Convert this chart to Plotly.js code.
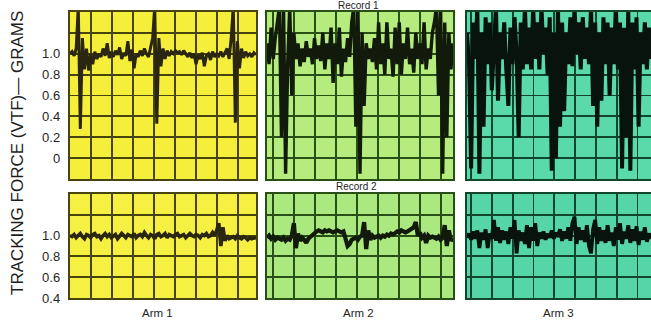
<!DOCTYPE html>
<html>
<head>
<meta charset="utf-8">
<script src="https://cdn.plot.ly/plotly-3.0.1.min.js"></script>
<style>
html,body{margin:0;padding:0;background:#fff;}
#chart{width:651px;height:321px;}
</style>
</head>
<body>
<div id="chart"></div>
<script>
// ---- Data (grams) ----
const record1Arm1 = [1.0,1.02,0.98,1.05,
  1.45,0.28,1.15,0.85,1.05,0.84,1.0,0.9,1.02,0.95,
  1.0,0.97,1.05,0.98,1.1,0.96,1.02,
  0.97,1.03,0.99,1.06,0.95,1.01,0.98,1.12,0.93,1.04,
  0.86,1.0,0.97,1.03,0.98,1.05,1.0,0.97,1.08,1.15,
  1.45,0.33,1.15,0.88,1.05,0.95,1.03,0.98,1.02,1.0,
  1.03,1.01,1.02,0.99,1.03,1.0,0.97,1.01,0.96,1.0,
  0.9,0.99,0.95,1.01,0.88,0.98,1.0,0.94,1.02,0.97,
  1.0,0.98,1.02,0.97,1.01,1.05,0.95,1.15,
  1.45,0.34,1.12,0.86,1.05,0.96,1.02,0.98,1.0,0.97,1.01,0.99];

const record1Arm2 = [1.1,0.9,1.25,0.95,1.15,1.3,
  1.45,0.2,1.45,-0.15,0.9,1.45,0.6,1.2,
  0.95,1.1,0.88,1.05,0.92,1.12,0.97,
  1.05,0.9,1.15,0.95,1.08,0.93,1.2,0.85,1.1,0.95,
  1.25,0.72,1.1,0.9,1.25,0.78,1.05,0.92,1.15,0.97,1.3,
  1.45,0.3,1.45,-0.15,1.2,0.5,1.1,
  0.95,1.05,0.92,1.15,0.85,1.3,0.9,1.1,0.8,1.3,0.95,1.05,
  0.78,1.25,0.9,1.3,0.8,1.1,0.95,1.25,0.9,1.05,
  0.82,1.2,0.95,1.1,0.9,1.3,0.85,1.05,0.95,1.2,1.3,
  1.45,0.6,1.45,-0.15,1.3,0.2,1.2,0.85,1.1];

const record1Arm3 = [1.2,0.9,-0.1,1.3,0.95,1.45,-0.15,1.2,0.3,1.35,0.9,
  1.3,0.65,1.1,1.45,0.55,1.2,0.95,1.3,0.85,0.5,
  1.25,0.9,1.35,1.0,0.2,1.3,0.85,1.45,0.9,1.25,
  0.85,1.45,0.95,1.3,0.85,1.45,1.0,1.25,0.8,1.35,
  -0.12,1.2,0.0,1.45,0.3,1.3,0.45,1.2,0.9,1.35,
  0.88,1.45,1.0,1.3,0.85,1.35,0.95,1.25,0.9,1.45,
  0.5,1.3,0.3,1.2,0.55,1.35,0.9,1.3,0.6,1.25,
  0.9,1.45,0.85,1.3,-0.1,1.25,0.2,1.45,-0.12,1.3,
  0.85,1.35,0.3,1.2,0.9,1.3,0.85,1.25,0.95];

const record2Arm1 = [1.0,0.99,1.01,0.98,1.0,1.02,0.99,0.97,1.01,1.0,
  0.98,1.01,1.02,0.99,1.0,0.97,1.0,1.02,0.99,1.01,
  0.98,1.0,1.01,0.97,1.0,1.02,1.0,0.98,1.01,1.0,
  0.99,1.02,0.98,1.0,1.01,0.99,1.03,1.0,0.98,1.01,
  1.0,0.97,1.01,1.02,0.99,1.0,1.02,0.98,1.01,1.0,
  0.99,1.01,1.02,0.99,1.0,1.01,0.98,1.0,1.02,1.0,
  0.99,1.01,1.0,0.98,1.01,1.0,1.02,0.99,1.0,1.03,
  1.0,1.05,1.12,0.9,1.08,0.95,1.0,0.97,0.98,0.99,
  0.97,1.0,0.98,0.97,0.99,0.98,0.96,0.98,0.97,0.98,0.97];

const record2Arm2 = [0.98,1.0,0.97,0.99,0.96,0.98,0.97,
  0.96,0.98,0.95,0.97,0.96,1.0,
  1.12,0.88,1.02,0.95,0.98,0.96,0.93,0.97,0.99,1.0,
  1.03,1.04,1.05,1.04,1.03,1.05,1.04,1.05,1.04,1.03,1.04,1.05,1.04,1.03,1.04,
  0.95,0.9,0.92,0.96,
  0.97,0.98,0.96,0.99,1.0,
  1.13,0.87,1.05,0.96,1.0,
  0.98,0.99,1.0,0.98,1.0,0.99,1.01,1.0,1.02,1.01,1.03,
  1.04,1.03,1.05,1.04,1.03,1.04,1.05,1.06,1.08,
  1.13,1.0,1.03,0.98,1.0,0.93,1.0,0.98,0.99,
  0.98,0.97,0.99,0.96,0.98,1.1,0.9,1.05,0.95,0.98];

const record2Arm3 = [0.98,1.02,0.96,1.04,0.97,1.05,0.88,
  1.03,0.96,1.06,0.88,1.02,0.97,
  1.15,0.95,1.08,0.93,1.05,
  0.96,1.04,0.92,1.08,0.97,1.15,0.83,1.05,
  0.95,1.03,0.92,1.1,0.88,1.08,0.95,1.12,0.9,1.03,
  0.97,1.04,0.96,1.02,0.98,1.05,0.97,1.03,0.99,1.06,0.95,1.04,0.97,1.08,
  0.95,1.12,1.18,0.92,1.08,0.96,
  1.05,0.94,1.1,0.9,0.83,1.06,1.15,0.92,1.08,0.95,
  1.05,0.93,1.1,0.95,1.03,0.9,1.08,0.96,1.12,0.92,1.04,0.97,1.1,0.93,1.06,0.95,1.09,0.91,1.04,0.96,1.08,0.94,1.02,0.97];

const topTickVals = [-0.2,0,0.2,0.4,0.6,0.8,1.0,1.2,1.4];
const topTickText = ['','0','0.2','0.4','0.6','0.8','1.0','',''];
const botTickVals = [0.4,0.6,0.8,1.0,1.2,1.4];
const botTickText = ['0.4','0.6','0.8','1.0','',''];
const armLabels = ['Arm 1','Arm 2','Arm 3'];
const recordLabels = ['Record 1','Record 2'];
const yTitle = 'TRACKING FORCE (VTF)\u2014 GRAMS';

// ---- Styling ----
const W = 651, H = 321;
const colX = [[70,256],[267,453],[467,651]];
const rowY = [[12,179],[194,298]];
const xRanges = [[0,8.86],[-0.29,8.57],[-0.2,8.65]];
const bgTop = ['#f5ef3c','#b6ec7e','#5adaab'];
const bgBot = ['#f6f042','#ace880','#56d6a8'];
const gridCol = ['#48440f','#274f16','#12462c'];
const lineCol = ['#2b2612','#111a0b','#07130c'];
const widthTop = [3.0, 3.4, 4.0];
const widthBot = [3.6, 4.2, 3.8];

const series = [
  [record1Arm1, record1Arm2, record1Arm3],
  [record2Arm1, record2Arm2, record2Arm3]
];

const traces = [];
const layout = {
  width: W, height: H,
  margin: {l:0,r:0,t:0,b:0},
  paper_bgcolor: '#ffffff',
  plot_bgcolor: 'rgba(0,0,0,0)',
  showlegend: false,
  shapes: [],
  annotations: []
};

let k = 0;
for (let r = 0; r < 2; r++) {
  for (let c = 0; c < 3; c++) {
    k++;
    const xa = 'xaxis' + (k === 1 ? '' : k);
    const ya = 'yaxis' + (k === 1 ? '' : k);
    const xr = 'x' + (k === 1 ? '' : k);
    const yr = 'y' + (k === 1 ? '' : k);
    const vals = series[r][c];
    const xRange = xRanges[c];
    traces.push({
      type: 'scatter', mode: 'lines',
      y: vals,
      x0: xRange[0],
      dx: (xRange[1] - xRange[0]) / (vals.length - 1),
      xaxis: xr, yaxis: yr,
      line: {color: lineCol[c], width: r === 0 ? widthTop[c] : widthBot[c], shape: 'linear'},
      hoverinfo: 'skip'
    });
    layout[xa] = {
      domain: [colX[c][0]/W, colX[c][1]/W],
      range: xRange,
      anchor: yr,
      tick0: 0, dtick: 1,
      showgrid: true, gridcolor: gridCol[c], gridwidth: 1.8,
      zeroline: false,
      showline: true, mirror: true, linecolor: gridCol[c], linewidth: 2.2,
      showticklabels: false, ticks: '',
      fixedrange: true
    };
    const isTop = r === 0;
    layout[ya] = {
      domain: [1 - rowY[r][1]/H, 1 - rowY[r][0]/H],
      range: isTop ? [-0.2, 1.4] : [0.4, 1.4],
      anchor: xr,
      tickmode: 'array',
      tickvals: isTop ? topTickVals : botTickVals,
      ticktext: isTop ? topTickText : botTickText,
      showgrid: true, gridcolor: gridCol[c], gridwidth: 1.8,
      zeroline: false,
      showline: true, mirror: true, linecolor: gridCol[c], linewidth: 2.2,
      showticklabels: c === 0,
      ticks: c === 0 ? 'outside' : '', ticklen: 5, tickcolor: 'rgba(0,0,0,0)',
      tickfont: {family: 'Liberation Sans, Arial, sans-serif', size: 13, color: '#262626'},
      fixedrange: true
    };
    layout.shapes.push({
      type: 'rect', layer: 'below',
      xref: xr + ' domain', yref: yr + ' domain',
      x0: 0, x1: 1, y0: 0, y1: 1,
      fillcolor: isTop ? bgTop[c] : bgBot[c],
      line: {width: 0}
    });
  }
}

const fontTxt = {family: 'Liberation Sans, Arial, sans-serif', size: 11.5, color: '#1e1e1e'};
const fontRec = {family: 'Liberation Sans, Arial, sans-serif', size: 10, color: '#1e1e1e'};
layout.annotations.push(
  {text: recordLabels[0], xref:'paper', yref:'paper', x: 358/W, y: 1 - 5/H, xanchor:'center', yanchor:'middle', showarrow:false, font: fontRec},
  {text: recordLabels[1], xref:'paper', yref:'paper', x: 356/W, y: 1 - 187/H, xanchor:'center', yanchor:'middle', showarrow:false, font: fontRec},
  {text: armLabels[0], xref:'paper', yref:'paper', x: 157/W, y: 1 - 313/H, xanchor:'center', yanchor:'middle', showarrow:false, font: fontTxt},
  {text: armLabels[1], xref:'paper', yref:'paper', x: 358/W, y: 1 - 313/H, xanchor:'center', yanchor:'middle', showarrow:false, font: fontTxt},
  {text: armLabels[2], xref:'paper', yref:'paper', x: 558/W, y: 1 - 313/H, xanchor:'center', yanchor:'middle', showarrow:false, font: fontTxt},
  {text: yTitle, xref:'paper', yref:'paper', x: 18/W, y: 1 - 153/H, xanchor:'center', yanchor:'middle', textangle: -90, showarrow:false,
   font: {family: 'Liberation Sans, Arial, sans-serif', size: 17, color: '#1e1e1e'}}
);

Plotly.newPlot('chart', traces, layout, {displayModeBar: false, staticPlot: true});
</script>
</body>
</html>
